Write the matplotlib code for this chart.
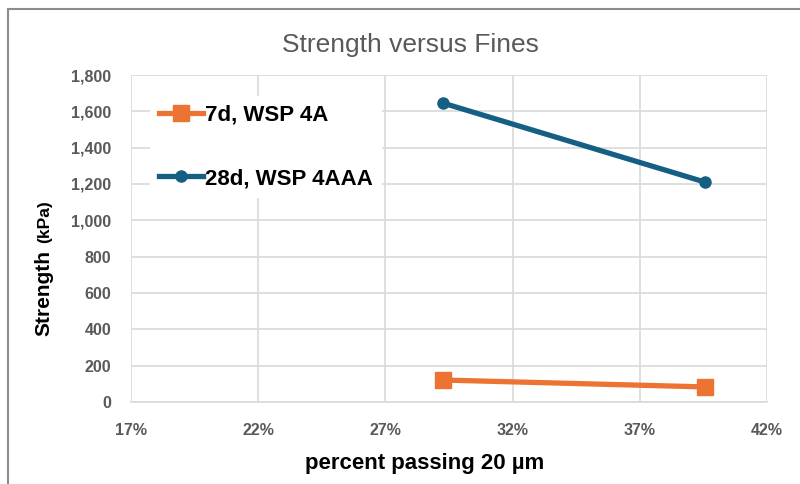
import matplotlib
matplotlib.use("Agg")
import matplotlib.pyplot as plt
from matplotlib.patches import Rectangle
from matplotlib.ticker import FuncFormatter

# fines content (fraction passing 20 um) and strength in kPa
fines_7d = [0.2925, 0.3955]
strength_7d = [121, 83]
fines_28d = [0.2925, 0.3955]
strength_28d = [1646, 1211]

series_labels = ["7d, WSP 4A", "28d, WSP 4AAA"]
x_ticks = [0.17, 0.22, 0.27, 0.32, 0.37, 0.42]
y_ticks = [0, 200, 400, 600, 800, 1000, 1200, 1400, 1600, 1800]

plt.rcParams["font.family"] = ["Liberation Sans", "DejaVu Sans"]

W, H = 800, 484
fig = plt.figure(figsize=(W / 100, H / 100), dpi=100)
# outer chart frame
fig.patches.append(Rectangle((8 / W, -0.1), 1.2, 1 - 9 / H + 0.1,
                             transform=fig.transFigure, fill=False,
                             edgecolor="#8c8c8c", linewidth=1.5))

ax = fig.add_axes([131 / W, 1 - 402 / H, 636 / W, 327 / H])

ax.plot(fines_7d, strength_7d, color="#ed7333", linewidth=3.8,
        marker="s", markersize=11, label=series_labels[0], zorder=3)
ax.plot(fines_28d, strength_28d, color="#156082", linewidth=3.8,
        marker="o", markersize=8, label=series_labels[1], zorder=3)

ax.set_xlim(x_ticks[0], x_ticks[-1])
ax.set_ylim(y_ticks[0], y_ticks[-1])
ax.set_xticks(x_ticks)
ax.set_yticks(y_ticks)
ax.xaxis.set_major_formatter(FuncFormatter(lambda v, p: f"{round(v * 100)}%"))
ax.yaxis.set_major_formatter(FuncFormatter(lambda v, p: f"{int(v):,}"))

ax.grid(True, color="#d9d9d9", linewidth=1.2)
ax.set_axisbelow(True)
for side in ["top", "right", "left"]:
    ax.spines[side].set_visible(False)
ax.spines["bottom"].set_color("#d9d9d9")
ax.spines["bottom"].set_linewidth(1.2)
ax.tick_params(axis="y", length=0, pad=14, labelcolor="#595959")
ax.tick_params(axis="x", length=0, pad=15, labelcolor="#595959")
for lbl in ax.get_xticklabels() + ax.get_yticklabels():
    lbl.set_fontweight("bold")
    lbl.set_fontsize(11.5)

fig.text(410 / W, 1 - 45 / H, "Strength versus Fines", fontsize=19,
         color="#595959", ha="center", va="center")
fig.text(425 / W, 1 - 464 / H, "percent passing 20 µm", fontsize=16,
         fontweight="bold", ha="center", va="center")

# y axis title: "Strength" followed by a smaller "(kPa)" on the same baseline
fig.text(49 / W, 1 - 336 / H, "Strength", rotation=90, rotation_mode="anchor",
         fontsize=15, fontweight="bold", ha="left", va="baseline")
fig.text(49 / W, 1 - 243 / H, "(kPa)", rotation=90, rotation_mode="anchor",
         fontsize=12.5, fontweight="bold", ha="left", va="baseline")

leg = ax.legend(loc="upper left", bbox_to_anchor=(0.012, 0.97), frameon=True,
                fancybox=False, edgecolor="none", framealpha=1,
                prop={"weight": "bold", "size": 16}, handlelength=2.0,
                handletextpad=0.1, labelspacing=1.9, borderpad=0.4)

fig.savefig("out.png", dpi=100)
